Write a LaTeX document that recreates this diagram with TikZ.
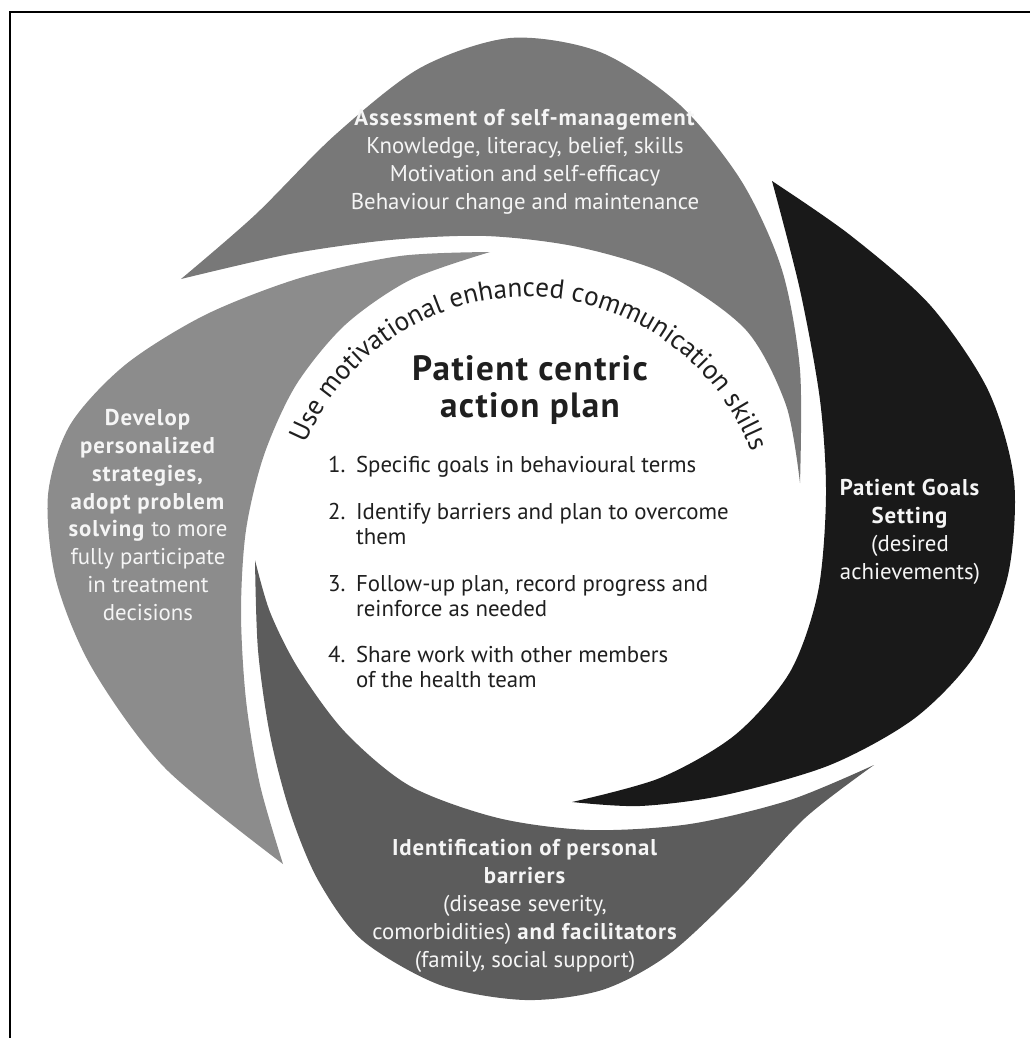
\documentclass[tikz,border=0pt]{standalone}
\usepackage{fontspec}
\setmainfont{PT Sans}[BoldFeatures={LetterSpace=4}]
\usetikzlibrary{decorations.text}
\definecolor{assessgray}{gray}{0.47}
\definecolor{developgray}{gray}{0.55}
\definecolor{barriergray}{gray}{0.36}
\definecolor{goalblack}{gray}{0.10}
\definecolor{petalwhite}{gray}{0.96}
\definecolor{inkblack}{gray}{0.12}
\begin{document}
\begin{tikzpicture}[x=0.02cm,y=-0.02cm,
    petaltext/.style={text=petalwhite,align=center,font=\fontsize{13}{15.9}\selectfont},
    plantext/.style={text=inkblack,align=left,font=\fontsize{13}{14.2}\selectfont}]
\useasboundingbox (0,0) rectangle (1030,1038);
\draw[line width=1.5pt] (10,1038) -- (10,12) -- (1030,12);

% petals
\fill[assessgray] plot[smooth] coordinates {(181,279) (255,215) (335,135) (420,68) (510,38) (600,52) (680,105) (742,182) (782,270) (800,370) (800,483)}
    -- plot[smooth] coordinates {(800,483) (786,405) (746,330) (668,275) (578,247) (486,236) (390,240) (290,254) (181,279)} -- cycle;
\fill[developgray] plot[smooth] coordinates {(490,252) (400,256) (300,278) (205,315) (125,365) (70,425) (48,495) (56,580) (92,668) (165,768) (283,864)}
    -- plot[smooth] coordinates {(283,864) (260,785) (246,700) (241,612) (246,530) (264,455) (296,385) (345,325) (410,280) (490,252)} -- cycle;
\fill[barriergray] plot[smooth] coordinates {(255,560) (258,650) (270,735) (290,812) (318,880) (362,940) (440,985) (525,1000) (602,990) (668,955) (738,890) (805,818) (874,765)}
    -- plot[smooth] coordinates {(874,765) (790,800) (690,824) (590,830) (498,818) (410,786) (345,732) (298,668) (270,612) (255,560)} -- cycle;
\fill[goalblack] plot[smooth] coordinates {(772,181) (850,235) (930,305) (988,390) (1014,480) (1008,575) (975,655) (915,718) (830,765) (725,795) (640,806) (572,802)}
    -- plot[smooth] coordinates {(572,802) (660,778) (735,735) (790,672) (818,592) (826,495) (820,400) (800,290) (772,181)} -- cycle;

\node[petaltext] (assess) at (525,162) {\textbf{Assessment of self-management}\\Knowledge, literacy, belief, skills\\Motivation and self-efficacy\\Behaviour change and maintenance};
\node[petaltext] (develop) at (148,515) {\textbf{Develop}\\\textbf{personalized}\\\textbf{strategies,}\\\textbf{adopt problem}\\\textbf{solving} to more\\fully participate\\in treatment\\decisions};
\node[petaltext] (goals) at (910,532) {\textbf{Patient Goals}\\\textbf{Setting}\\(desired\\achievements)};
\node[petaltext] (barriers) at (525,906) {\textbf{Identification of personal}\\\textbf{barriers}\\(disease severity,\\comorbidities) \textbf{and facilitators}\\(family, social support)};

\path[decorate,decoration={text along path,text align=center,
    text={|\fontsize{15.5}{17}\selectfont\color{inkblack}|Use motivational enhanced communication skills}}]
    (527,537) ++(-161:240) arc[start angle=-161,end angle=-17,radius=240];
\node[text=inkblack,align=center,font=\fontsize{20}{21.5}\selectfont\bfseries] (title) at (530,390) {Patient centric\\action plan};
\node[plantext,anchor=north west] (plan) at (322,449) {\begin{tabular}{@{}l@{\hspace{6pt}}l@{}}
1. & Specific goals in behavioural terms\\[12.4pt]
2. & Identify barriers and plan to overcome\\
   & them\\[12.4pt]
3. & Follow-up plan, record progress and\\
   & reinforce as needed\\[12.4pt]
4. & Share work with other members\\
   & of the health team
\end{tabular}};
\end{tikzpicture}
\end{document}
